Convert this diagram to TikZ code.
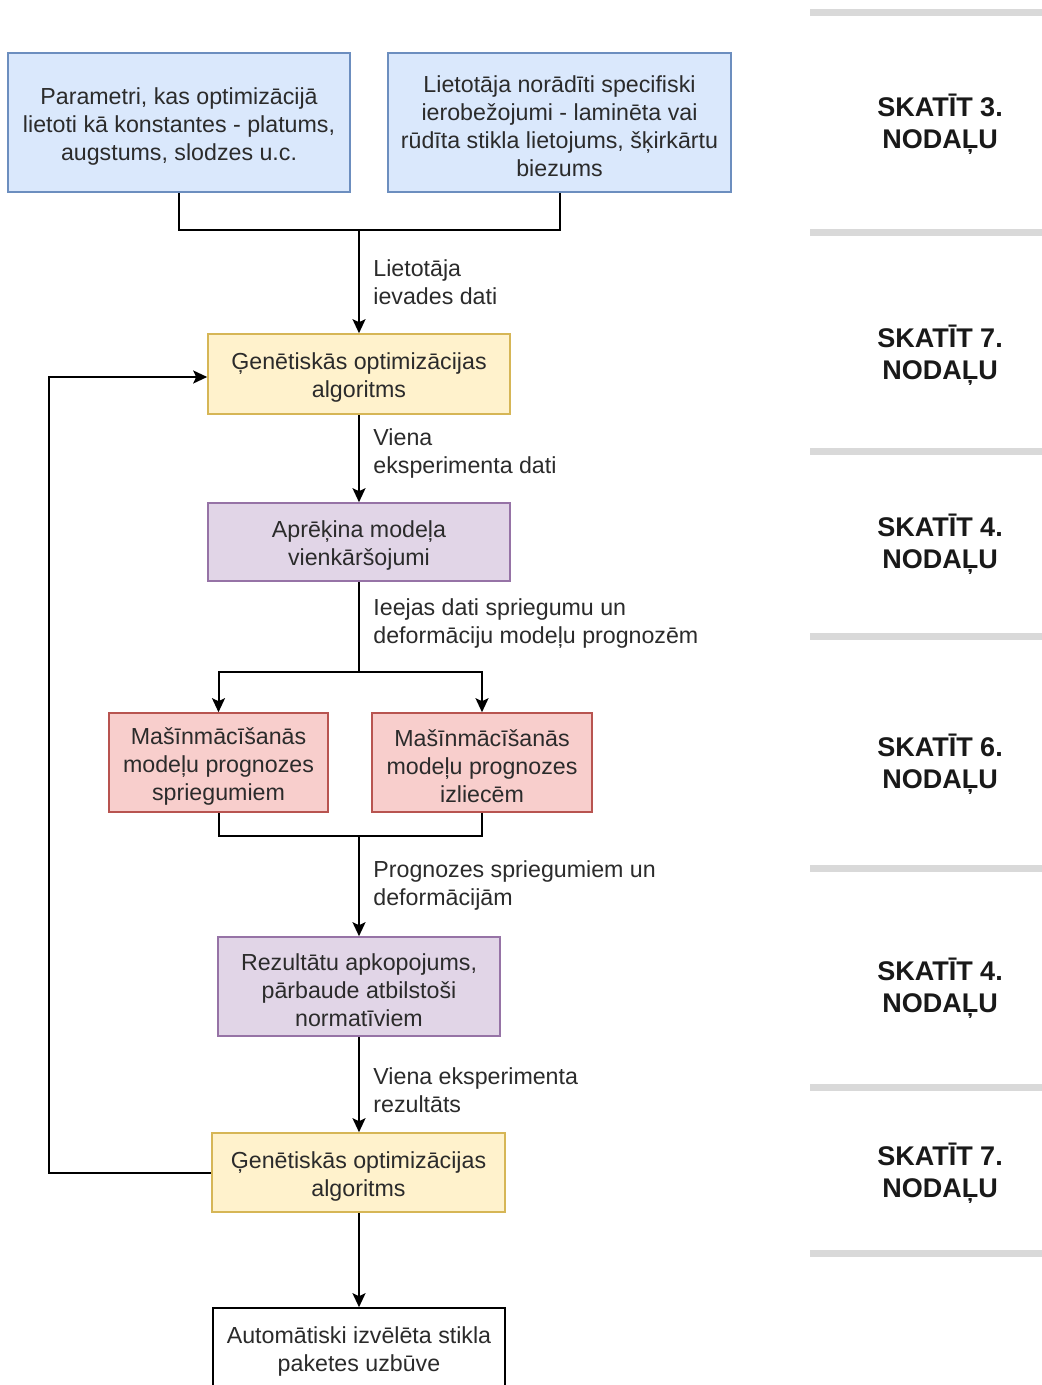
\documentclass[tikz,border=0pt]{standalone}
\usepackage{fontspec}
\setmainfont{Liberation Sans}
\usetikzlibrary{arrows.meta}

\definecolor{blueFill}{HTML}{DAE8FC}\definecolor{blueLine}{HTML}{6C8EBF}
\definecolor{yellowFill}{HTML}{FFF2CC}\definecolor{yellowLine}{HTML}{D6B656}
\definecolor{purpleFill}{HTML}{E1D5E7}\definecolor{purpleLine}{HTML}{9673A6}
\definecolor{redFill}{HTML}{F8CECC}\definecolor{redLine}{HTML}{B85450}
\definecolor{txt}{HTML}{2B2B2B}
\definecolor{barGray}{HTML}{D9D9D9}

\begin{document}
\begin{tikzpicture}[x=0.5pt,y=-0.5pt,
  box/.style={draw, line width=0.8pt, inner sep=0pt},
  sz/.style 2 args={minimum width=#1*0.5pt, minimum height=#2*0.5pt},
  bluebox/.style={box, fill=blueFill, draw=blueLine},
  yellowbox/.style={box, fill=yellowFill, draw=yellowLine},
  purplebox/.style={box, fill=purpleFill, draw=purpleLine},
  redbox/.style={box, fill=redFill, draw=redLine},
  plainbox/.style={box, fill=white, draw=black},
  boxtext/.style={align=center, inner sep=0pt, text=txt,
    font=\fontsize{11.6}{14}\selectfont},
  wire/.style={draw=black, line width=1pt},
  arr/.style={wire, -{Stealth[length=7pt, width=6.5pt, inset=1.5pt]}},
  edgelabel/.style={anchor=west, align=left, inner sep=0pt, text=txt,
    font=\fontsize{11.6}{14}\selectfont},
  chapter/.style={align=center, inner sep=0pt, text=black!90,
    font=\fontsize{13.5}{16}\selectfont\bfseries},
  divider/.style={draw=barGray, line width=3.5pt}
]
\path[use as bounding box] (0,0) rectangle (1042,1385);
\clip (0,0) rectangle (1042,1385);
\fill[white] (0,0) rectangle (1042,1385);

% chapter dividers
\foreach \yy in {13,233,451,636,868,1087,1253}
  \draw[divider] (810,\yy) -- (1042,\yy);

% chapter references
\node[chapter] (c1) at (940,124)   {SKATĪT 3.\\NODAĻU};
\node[chapter] (c2) at (940,355.5) {SKATĪT 7.\\NODAĻU};
\node[chapter] (c3) at (940,544)   {SKATĪT 4.\\NODAĻU};
\node[chapter] (c4) at (940,764)   {SKATĪT 6.\\NODAĻU};
\node[chapter] (c5) at (940,988)   {SKATĪT 4.\\NODAĻU};
\node[chapter] (c6) at (940,1173)  {SKATĪT 7.\\NODAĻU};

% process boxes (frames)
\node[bluebox,   sz={342}{139}] (b1) at (179,122.5)  {};
\node[bluebox,   sz={343}{139}] (b2) at (559.5,122.5){};
\node[yellowbox, sz={302}{80}]  (g1) at (359,374)    {};
\node[purplebox, sz={302}{78}]  (a1) at (359,542)    {};
\node[redbox,    sz={219}{99}]  (m1) at (218.5,762.5){};
\node[redbox,    sz={220}{99}]  (m2) at (482,762.5)  {};
\node[purplebox, sz={282}{99}]  (r1) at (359,986.5)  {};
\node[yellowbox, sz={293}{79}]  (g2) at (358.5,1172.5){};
\node[plainbox,  sz={292}{80}]  (f1) at (359,1348)   {};

% box texts, set slightly below the frame centre
\node[boxtext] (b1t) at ([yshift=-1.8pt]b1.center)
  {Parametri, kas optimizācijā\\lietoti kā konstantes - platums,\\augstums, slodzes u.c.};
\node[boxtext] (b2t) at ([yshift=-1.8pt]b2.center)
  {Lietotāja norādīti specifiski\\ierobežojumi - laminēta vai\\rūdīta stikla lietojums, šķirkārtu\\biezums};
\node[boxtext] (g1t) at ([yshift=-1.8pt]g1.center)
  {Ģenētiskās optimizācijas\\algoritms};
\node[boxtext] (a1t) at ([yshift=-1.8pt]a1.center)
  {Aprēķina modeļa\\vienkāršojumi};
\node[boxtext] (m1t) at ([yshift=-1.8pt]m1.center)
  {Mašīnmācīšanās\\modeļu prognozes\\spriegumiem};
\node[boxtext] (m2t) at ([yshift=-1.8pt]m2.center)
  {Mašīnmācīšanās\\modeļu prognozes\\izliecēm};
\node[boxtext] (r1t) at ([yshift=-1.8pt]r1.center)
  {Rezultātu apkopojums,\\pārbaude atbilstoši\\normatīviem};
\node[boxtext] (g2t) at ([yshift=-1.8pt]g2.center)
  {Ģenētiskās optimizācijas\\algoritms};
\node[boxtext] (f1t) at ([yshift=-1.8pt]f1.center)
  {Automātiski izvēlēta stikla\\paketes uzbūve};

% junction points
\coordinate (j1) at (359,230);
\coordinate (j2) at (359,672);
\coordinate (j3) at (359,836);
\coordinate (lp) at (49,1172.5);
\coordinate (lq) at (49,377);

% connectors
\draw[wire] (b1.south) |- (j1);
\draw[wire] (b2.south) |- (j1);
\draw[arr] (j1) -- (g1.north);
\draw[arr] (g1.south) -- (a1.north);
\draw[wire] (a1.south) -- (j2);
\draw[arr] (j2) -| (m1.north);
\draw[arr] (j2) -| (m2.north);
\draw[wire] (m1.south) |- (j3);
\draw[wire] (m2.south) |- (j3);
\draw[arr] (j3) -- (r1.north);
\draw[arr] (r1.south) -- (r1.south |- g2.north);
\draw[arr] (g2.south -| f1.north) -- (f1.north);
\draw[arr] (g2.west) -- (lp) -- (lq) -- (g1.west |- lq);

% connector labels
\node[edgelabel] (l1) at (373,282)  {Lietotāja\\ievades dati};
\node[edgelabel] (l2) at (373,453)  {Viena\\eksperimenta dati};
\node[edgelabel] (l3) at (373,623.5){Ieejas dati spriegumu un\\deformāciju modeļu prognozēm};
\node[edgelabel] (l4) at (373,885)  {Prognozes spriegumiem un\\deformācijām};
\node[edgelabel] (l5) at (373,1090) {Viena eksperimenta\\rezultāts};
\end{tikzpicture}
\end{document}
